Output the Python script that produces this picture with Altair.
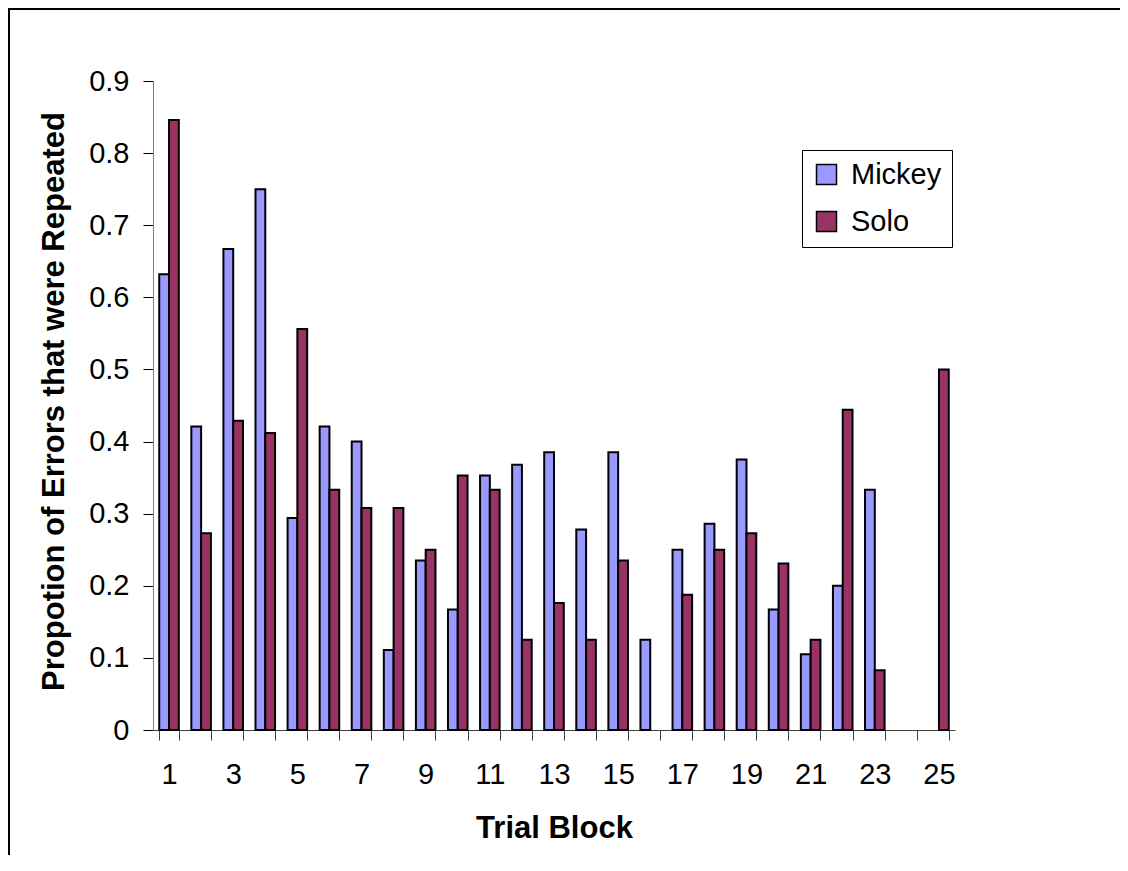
import altair as alt
import pandas as pd

blocks = list(range(1, 26))
series_names = ["Mickey", "Solo"]
series_colors = ["#9999FF", "#993366"]
mickey = [0.632, 0.421, 0.667, 0.75, 0.294, 0.421, 0.4, 0.111, 0.235, 0.167,
          0.353, 0.368, 0.385, 0.278, 0.385, 0.125, 0.25, 0.286, 0.375, 0.167,
          0.105, 0.2, 0.333, None, None]
solo = [0.846, 0.273, 0.429, 0.412, 0.556, 0.333, 0.308, 0.308, 0.25, 0.353,
        0.333, 0.125, 0.176, 0.125, 0.235, None, 0.1875, 0.25, 0.273, 0.231,
        0.125, 0.444, 0.083, None, 0.5]
y_ticks = [0, 0.1, 0.2, 0.3, 0.4, 0.5, 0.6, 0.7, 0.8, 0.9]

rows = []
for b, m, s in zip(blocks, mickey, solo):
    if m is not None:
        rows.append({"block": b, "series": "Mickey", "value": m})
    if s is not None:
        rows.append({"block": b, "series": "Solo", "value": s})
df = pd.DataFrame(rows)

FONT = "Liberation Sans"

bars = alt.Chart(df).mark_bar(stroke="black", strokeWidth=2, opacity=1).encode(
    x=alt.X("block:O",
            scale=alt.Scale(domain=blocks, paddingInner=0.39, paddingOuter=0.195),
            axis=alt.Axis(title="Trial Block", labelAngle=0,
                          labelExpr="datum.value % 2 == 1 ? datum.label : ''",
                          labelOverlap=False, tickBand="extent", tickSize=10,
                          tickColor="#404040", domainColor="#404040",
                          labelPadding=20, labelFontSize=29, labelFont=FONT,
                          labelColor="black", titleFont=FONT, titleFontSize=31,
                          titleFontWeight="bold", titleColor="black",
                          titleBaseline="alphabetic", titleY=107)),
    xOffset=alt.XOffset("series:N",
                        scale=alt.Scale(domain=series_names, paddingInner=0, paddingOuter=0)),
    y=alt.Y("value:Q",
            scale=alt.Scale(domain=[0, 0.9], nice=False),
            axis=alt.Axis(title="Propotion of Errors that were Repeated",
                          values=y_ticks, format=".1~f", grid=False, tickSize=10,
                          tickColor="black", domainColor="#808080",
                          labelPadding=14, labelFontSize=29, labelFont=FONT,
                          labelColor="black", titleFont=FONT, titleFontSize=31,
                          titleFontWeight="bold", titleColor="black",
                          titleAngle=270, titleBaseline="alphabetic", titleX=-90,
                          titleY=320)),
    color=alt.Color("series:N",
                    scale=alt.Scale(domain=series_names, range=series_colors),
                    legend=alt.Legend(title=None, orient="none", legendX=649, legendY=69,
                                      strokeColor="black", fillColor="white", padding=10,
                                      symbolType="square", symbolSize=400,
                                      symbolStrokeColor="black", symbolStrokeWidth=1.5,
                                      symbolOpacity=1, labelFontSize=29, labelFont=FONT,
                                      labelColor="black", rowPadding=17, labelOffset=10)),
)

frame = alt.Data(values=[{}])
top_line = alt.Chart(frame).mark_rule(color="black", strokeWidth=2).encode(
    x=alt.value(-145), x2=alt.value(1300), y=alt.value(-72)
)
left_line = alt.Chart(frame).mark_rule(color="black", strokeWidth=2).encode(
    x=alt.value(-144), y=alt.value(-73), y2=alt.value(1100)
)

chart = alt.layer(top_line, left_line, bars).properties(
    width=802, height=649,
    padding={"left": 145, "top": 73, "right": 165, "bottom": 125},
    autosize=alt.AutoSizeParams(type="none"),
).configure_view(stroke=None)

chart.save("out.html", embed_options={"renderer": "svg", "actions": False})
